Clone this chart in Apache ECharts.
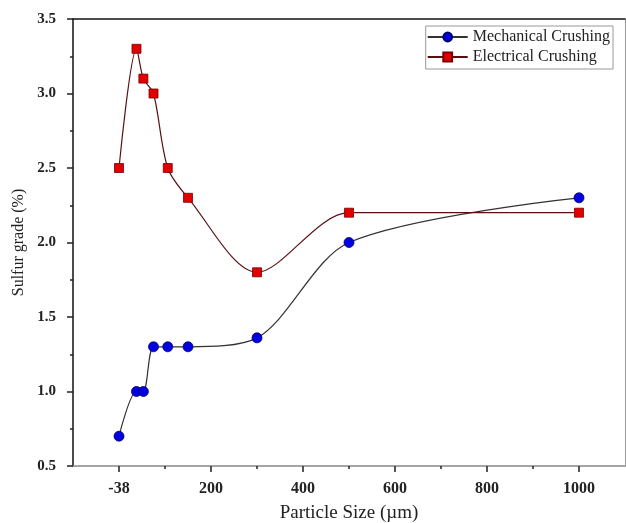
<!DOCTYPE html>
<html>
<head>
<meta charset="utf-8">
<title>Sulfur grade vs particle size</title>
<script src="https://cdn.jsdelivr.net/npm/echarts@6/dist/echarts.min.js"></script>
<style>
    html, body { margin: 0; padding: 0; background: #fff; }
    #chart { width: 626px; height: 523px; }
</style>
</head>
<body>
<div id="chart"></div>
<script>
// particle size (µm), 0 stands for the "-38" fraction
var sizes = [0, 38, 53, 75, 106, 150, 300, 500, 1000];
var mechanical = [0.7, 1.0, 1.0, 1.3, 1.3, 1.3, 1.36, 2.0, 2.3];
var electrical = [2.5, 3.3, 3.1, 3.0, 2.5, 2.3, 1.8, 2.2, 2.2];
var xMajorTicks = [0, 200, 400, 600, 800, 1000];
var xMinorTicks = [100, 300, 500, 700, 900];

var font = '"Liberation Serif", "Times New Roman", serif';

function pairs(ys) {
    var out = [];
    for (var i = 0; i < sizes.length; i++) out.push([sizes[i], ys[i]]);
    return out;
}

var chart = echarts.init(document.getElementById('chart'));

var option = {
    backgroundColor: '#fff',
    animation: false,
    grid: { left: 73, right: 1, top: 19, bottom: 57, outerBoundsMode: 'none' },
    legend: {
        orient: 'vertical',
        right: 13,
        top: 26,
        padding: [3, 3, 4, 1],
        itemGap: 4,
        itemWidth: 40,
        itemHeight: 11,
        borderColor: '#999',
        borderWidth: 1,
        textStyle: { fontFamily: font, fontSize: 16, color: '#222' },
        data: ['Mechanical Crushing', 'Electrical Crushing']
    },
    xAxis: [
        {
            type: 'value',
            min: -100,
            max: 1100,
            position: 'bottom',
            name: 'Particle Size (µm)',
            nameLocation: 'middle',
            nameGap: 38,
            nameTextStyle: { fontFamily: font, fontSize: 19, color: '#222' },
            axisLine: { show: true, onZero: false, lineStyle: { color: '#888', width: 1.5 } },
            axisTick: { show: true, inside: false, length: 6, customValues: xMajorTicks, lineStyle: { color: '#222', width: 1.5 } },
            axisLabel: {
                customValues: xMajorTicks,
                margin: 15,
                fontFamily: font, fontSize: 16, fontWeight: 'bold', color: '#222',
                formatter: function (v) { return v === 0 ? '-38' : String(v); }
            },
            splitLine: { show: false }
        },
        {
            type: 'value',
            min: -100,
            max: 1100,
            position: 'bottom',
            axisLine: { show: false, onZero: false },
            axisTick: { show: true, inside: false, length: 3, customValues: xMinorTicks, lineStyle: { color: '#222', width: 1.5 } },
            axisLabel: { show: false },
            splitLine: { show: false }
        },
        {
            type: 'value',
            min: -100,
            max: 1100,
            position: 'top',
            axisLine: { show: true, onZero: false, lineStyle: { color: '#111', width: 1.5 } },
            axisTick: { show: false },
            axisLabel: { show: false },
            splitLine: { show: false }
        }
    ],
    yAxis: [
        {
            type: 'value',
            min: 0.5,
            max: 3.5,
            interval: 0.5,
            name: 'Sulfur grade (%)',
            nameLocation: 'middle',
            nameGap: 42,
            nameTextStyle: { fontFamily: font, fontSize: 16, color: '#222' },
            axisLine: { show: true, onZero: false, lineStyle: { color: '#111', width: 1.5 } },
            axisTick: { show: true, inside: false, length: 6, lineStyle: { color: '#222', width: 1.5 } },
            minorTick: { show: true, splitNumber: 2, length: 3, lineStyle: { color: '#222', width: 1.5 } },
            axisLabel: {
                margin: 17,
                fontFamily: font, fontSize: 15, fontWeight: 'bold', color: '#222',
                formatter: function (v) { return v.toFixed(1); }
            },
            splitLine: { show: false }
        },
        {
            type: 'value',
            min: 0.5,
            max: 3.5,
            position: 'right',
            axisLine: { show: true, onZero: false, lineStyle: { color: '#999', width: 1 } },
            axisTick: { show: false },
            axisLabel: { show: false },
            splitLine: { show: false }
        }
    ],
    series: [
        {
            name: 'Mechanical Crushing',
            type: 'line',
            data: pairs(mechanical),
            smooth: 0.3,
            symbol: 'circle',
            symbolSize: 10,
            lineStyle: { color: '#333', width: 1.2 },
            itemStyle: { color: '#0000e0', borderColor: '#00006a', borderWidth: 0.8 },
            z: 3
        },
        {
            name: 'Electrical Crushing',
            type: 'line',
            data: pairs(electrical),
            smooth: 0.3,
            symbol: 'rect',
            symbolSize: 9,
            lineStyle: { color: '#5a1010', width: 1.2 },
            itemStyle: { color: '#e00000', borderColor: '#7a0000', borderWidth: 0.8 },
            z: 4
        }
    ]
};

chart.setOption(option);
</script>
</body>
</html>
